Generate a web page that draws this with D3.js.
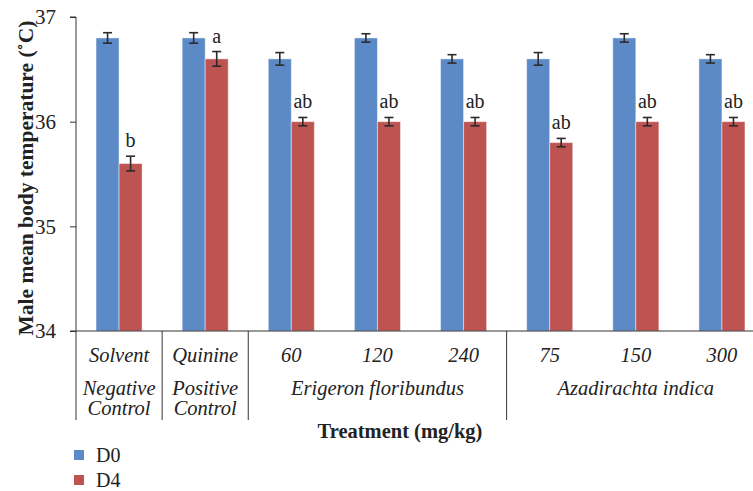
<!DOCTYPE html>
<html>
<head>
<meta charset="utf-8">
<script src="https://cdn.jsdelivr.net/npm/d3@7/dist/d3.min.js"></script>
<style>
  html, body { margin: 0; padding: 0; background: #fff; }
  svg { display: block; }
</style>
</head>
<body>
<div id="chart"></div>
<script>
const doses = ['Solvent', 'Quinine', '60', '120', '240', '75', '150', '300']
const seriesNames = ['D0', 'D4']
const d0Values = [36.8, 36.8, 36.6, 36.8, 36.6, 36.6, 36.8, 36.6]
const d4Values = [35.6, 36.6, 36.0, 36.0, 36.0, 35.8, 36.0, 36.0]
const d0Errors = [0.05, 0.05, 0.06, 0.04, 0.04, 0.06, 0.04, 0.04]
const d4Errors = [0.07, 0.07, 0.04, 0.04, 0.04, 0.04, 0.04, 0.04]
const d4Letters = ['b', 'a', 'ab', 'ab', 'ab', 'ab', 'ab', 'ab']
const groupNames = [['Negative', 'Control'], ['Positive', 'Control'], ['Erigeron floribundus'], ['Azadirachta indica']]
const groupSpans = [[0, 0], [1, 1], [2, 4], [5, 7]]
const yTicks = [34, 35, 36, 37]

const width = 753, height = 491
const colors = { D0: '#5b8ac7', D4: '#bd5451' }
const serif = '"Liberation Serif", "DejaVu Serif", serif'
const ink = '#222'

const svg = d3.select('#chart').append('svg')
  .attr('width', width).attr('height', height)

const plotLeft = 76, plotRight = 765, plotTop = 17, plotBottom = 331

const y = d3.scaleLinear().domain([34, 37]).range([plotBottom, plotTop])
const x0 = d3.scaleBand().domain(doses).range([plotLeft, plotRight]).padding(0)
const x1 = d3.scaleBand().domain(seriesNames).range([0, x0.bandwidth()])
  .paddingInner(0).paddingOuter(0.87)

const rows = doses.map((d, i) => ({
  dose: d,
  bars: [
    { key: 'D0', value: d0Values[i], err: d0Errors[i] },
    { key: 'D4', value: d4Values[i], err: d4Errors[i], letter: d4Letters[i] },
  ]
}))

// bars
const g = svg.append('g')
const groups = g.selectAll('g.grp').data(rows).join('g')
  .attr('class', 'grp')
  .attr('transform', d => `translate(${x0(d.dose)},0)`)

groups.selectAll('rect').data(d => d.bars).join('rect')
  .attr('x', d => x1(d.key))
  .attr('y', d => y(d.value))
  .attr('width', x1.bandwidth())
  .attr('height', d => y(34) - y(d.value))
  .attr('fill', d => colors[d.key])
  .attr('stroke', 'rgba(255,255,255,0.45)').attr('stroke-width', 1)

// error bars
const cap = 4.5
groups.selectAll('g.err').data(d => d.bars).join('g')
  .attr('class', 'err')
  .each(function (d) {
    const cx = x1(d.key) + x1.bandwidth() / 2
    const sel = d3.select(this)
    sel.append('line').attr('x1', cx).attr('x2', cx)
      .attr('y1', y(d.value + d.err)).attr('y2', y(d.value - d.err))
    sel.append('line').attr('x1', cx - cap).attr('x2', cx + cap)
      .attr('y1', y(d.value + d.err)).attr('y2', y(d.value + d.err))
    sel.append('line').attr('x1', cx - cap).attr('x2', cx + cap)
      .attr('y1', y(d.value - d.err)).attr('y2', y(d.value - d.err))
    sel.selectAll('line').attr('stroke', '#2b2b2b').attr('stroke-width', 1.6)
  })

// significance letters
groups.selectAll('text.letter').data(d => d.bars.filter(b => b.letter)).join('text')
  .attr('class', 'letter')
  .attr('x', d => x1(d.key) + x1.bandwidth() / 2)
  .attr('y', d => y(d.value + d.err) - 9)
  .attr('text-anchor', 'middle')
  .attr('font-family', serif).attr('font-size', 20).attr('fill', ink)
  .text(d => d.letter)

// y axis
const yAxis = svg.append('g')
  .attr('transform', `translate(${plotLeft},0)`)
  .call(d3.axisLeft(y).tickValues(yTicks).tickSize(6).tickPadding(14).tickFormat(d3.format('d')))
yAxis.select('.domain').attr('stroke', '#333').attr('d', `M-6,${plotTop}H0V${plotBottom}`)
yAxis.selectAll('.tick line').attr('stroke', '#333')
yAxis.selectAll('.tick text')
  .attr('font-family', serif).attr('font-size', 21).attr('fill', ink)

// x axis baseline
svg.append('line')
  .attr('x1', plotLeft - 6).attr('x2', width).attr('y1', plotBottom).attr('y2', plotBottom)
  .attr('stroke', '#333').attr('stroke-width', 1)

// group separators
const sepBottom = 420
const sepXs = [plotLeft].concat(groupSpans.slice(1).map(s => x0(doses[s[0]])))
svg.selectAll('line.sep').data(sepXs).join('line')
  .attr('class', 'sep')
  .attr('x1', d => d).attr('x2', d => d)
  .attr('y1', plotBottom).attr('y2', sepBottom)
  .attr('stroke', '#333').attr('stroke-width', 1)

// dose labels
svg.selectAll('text.dose').data(doses).join('text')
  .attr('class', 'dose')
  .attr('x', d => x0(d) + x0.bandwidth() / 2)
  .attr('y', 362)
  .attr('text-anchor', 'middle')
  .attr('font-family', serif).attr('font-style', 'italic').attr('font-size', 20.5).attr('fill', ink)
  .text(d => d)

// group labels
groupNames.forEach((lines, i) => {
  const [a, b] = groupSpans[i]
  const cx = (x0(doses[a]) + x0(doses[b]) + x0.bandwidth()) / 2
  lines.forEach((t, j) => {
    svg.append('text')
      .attr('x', cx).attr('y', 395 + j * 20)
      .attr('text-anchor', 'middle')
      .attr('font-family', serif).attr('font-style', 'italic').attr('font-size', 20.5).attr('fill', ink)
      .text(t)
  })
})

// axis titles
svg.append('text')
  .attr('x', 400).attr('y', 438)
  .attr('text-anchor', 'middle')
  .attr('font-family', serif).attr('font-weight', 'bold').attr('font-size', 20.5).attr('fill', ink)
  .text('Treatment (mg/kg)')

svg.append('text')
  .attr('transform', `translate(33,${(plotTop + plotBottom) / 2 + 4}) rotate(-90)`)
  .attr('text-anchor', 'middle')
  .attr('font-family', serif).attr('font-weight', 'bold').attr('font-size', 21.5).attr('fill', ink)
  .text('Male mean body temperature (\u02DAC)')

// legend
const legend = svg.selectAll('g.legend').data(seriesNames).join('g')
  .attr('class', 'legend')
  .attr('transform', (d, i) => `translate(74,${450 + i * 25})`)
legend.append('rect')
  .attr('width', 10).attr('height', 10)
  .attr('fill', d => colors[d])
legend.append('text')
  .attr('x', 22).attr('y', 12)
  .attr('font-family', serif).attr('font-size', 20).attr('fill', ink)
  .text(d => d)
</script>
</body>
</html>
